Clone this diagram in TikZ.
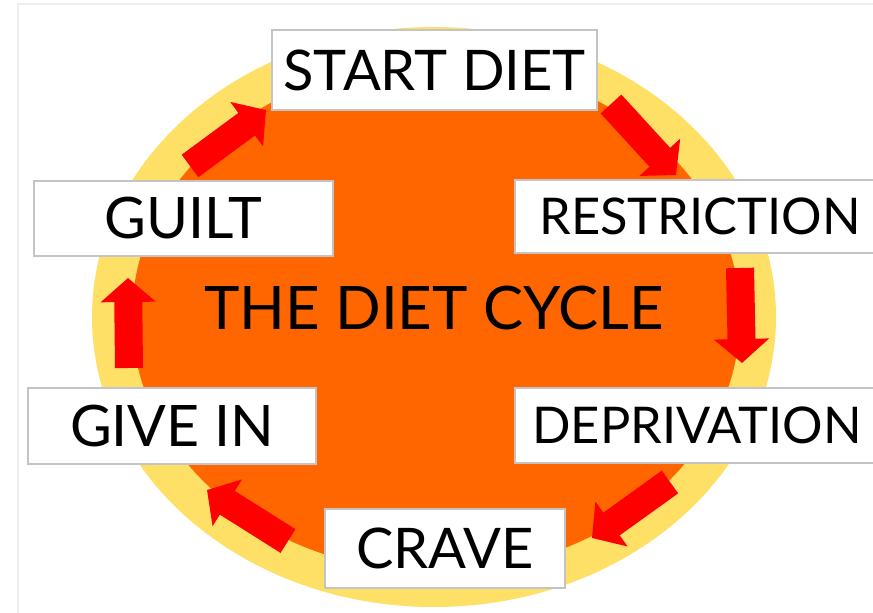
\documentclass[tikz,border=0pt]{standalone}
\usepackage{fontspec}
\setmainfont{Lato}
\usetikzlibrary{arrows.meta}
\definecolor{ringyellow}{HTML}{FFE066}
\definecolor{cycleorange}{HTML}{FF6600}
\definecolor{arrowred}{HTML}{FF0000}
\definecolor{boxgrey}{HTML}{C4C4C4}
\definecolor{framegrey}{HTML}{EEEEEE}
\tikzset{
  stepbox/.style={draw=boxgrey, line width=1.3pt, fill=white, inner sep=0pt, text=black},
  bigarrow/.style={draw=arrowred, line width=14pt, -{Triangle[width=27pt,length=12pt]}},
}
\begin{document}
\begin{tikzpicture}[x=0.5pt,y=-0.5pt]
  \useasboundingbox (0,0) rectangle (873,613);
  \fill[white] (0,0) rectangle (873,613);
  \draw[framegrey, line width=1pt] (18,613) -- (18,4) -- (873,4);

  % ring and disc
  \fill[ringyellow] (434,317) ellipse (342 and 290);
  \fill[cycleorange] (436,317) ellipse (304 and 255);

  % arrow ends
  \coordinate (guiltout) at (190,166);  \coordinate (startin) at (266,110);
  \coordinate (startout) at (611,104);  \coordinate (restrin) at (676,175);
  \coordinate (restrout) at (740,268);  \coordinate (deprin) at (742,363);
  \coordinate (deprout) at (670,482);   \coordinate (cravein) at (592,538);
  \coordinate (craveout) at (288,541);  \coordinate (giveinin) at (207,490);
  \coordinate (giveinout) at (129,368); \coordinate (guiltin) at (128,278);
  \foreach \a/\b in {guiltout/startin, startout/restrin, restrout/deprin,
                     deprout/cravein, craveout/giveinin, giveinout/guiltin}
    \draw[bigarrow] (\a) -- (\b);

  % steps
  \node[stepbox, minimum width=162.5pt, minimum height=40pt,
        font=\fontsize{28}{30}\selectfont] (start) at (434.5,70) {START DIET};
  \node[stepbox, minimum width=185pt, minimum height=36.5pt,
        font=\fontsize{25.3}{27}\selectfont] (restr) at (700,216.5) {RESTRICTION};
  \node[stepbox, minimum width=182pt, minimum height=37.5pt,
        font=\fontsize{25.3}{27}\selectfont] (depr) at (697,425.5) {DEPRIVATION};
  \node[stepbox, minimum width=120pt, minimum height=39.5pt,
        font=\fontsize{28}{30}\selectfont] (crave) at (445,548.5) {CRAVE};
  \node[stepbox, minimum width=144pt, minimum height=38pt,
        font=\fontsize{28.6}{30}\selectfont] (givein) at (172,426) {GIVE IN};
  \node[stepbox, minimum width=149.5pt, minimum height=37.5pt,
        font=\fontsize{28.6}{30}\selectfont] (guilt) at (183.5,218.5) {GUILT};

  \node[font=\fontsize{30}{32}\selectfont] (title) at (434,308.5) {THE DIET CYCLE};
\end{tikzpicture}
\end{document}
